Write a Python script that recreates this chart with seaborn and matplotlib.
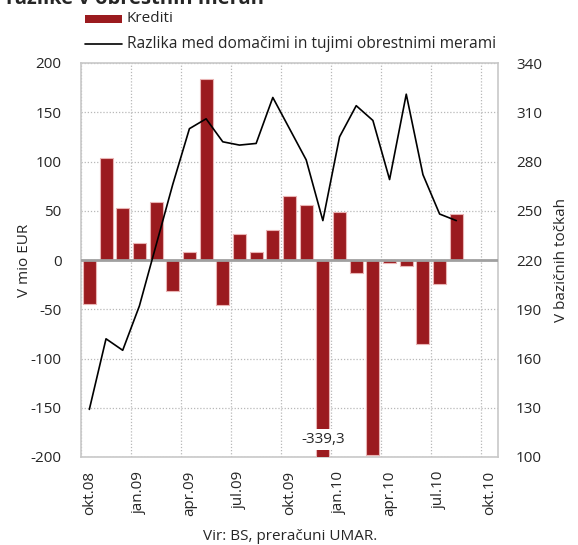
import numpy as np
import pandas as pd
import matplotlib
matplotlib.use("Agg")
import matplotlib.pyplot as plt
import seaborn as sns

months = ["okt.08", "nov.08", "dec.08", "jan.09", "feb.09", "mar.09", "apr.09",
          "maj.09", "jun.09", "jul.09", "avg.09", "sep.09", "okt.09", "nov.09",
          "dec.09", "jan.10", "feb.10", "mar.10", "apr.10", "maj.10", "jun.10",
          "jul.10", "avg.10", "sep.10", "okt.10"]

# Monthly change in loans, EUR million
krediti = [-45, 104, 53, 17, 59, -31, 8, 184, -46, 26, 8, 30, 65, 56,
           -339.3, 49, -13.5, -198, -3.4, -6.4, -85, -24, 47, np.nan, np.nan]

# Domestic vs foreign interest-rate spread, basis points
razlika = [129, 172, 165, 192, 229, 266, 300, 306, 292, 290, 291, 319, 300,
           281, 244, 295, 314, 305, 269, 321, 272, 248, 244]

tick_labels = ["okt.08", "jan.09", "apr.09", "jul.09", "okt.09",
               "jan.10", "apr.10", "jul.10", "okt.10"]

bar_label = "Krediti"
line_label = "Razlika med domačimi in tujimi obrestnimi merami"

sns.set_theme(style="white")
plt.rcParams["font.family"] = ["Open Sans", "DejaVu Sans"]
plt.rcParams["axes.unicode_minus"] = False

FS = 11
bar_color = "#9b1b1f"
grid_color = "#b8b8b8"

df_bars = pd.DataFrame({"mesec": months, "krediti": krediti})
df_line = pd.DataFrame({"pos": np.arange(len(razlika)), "razlika": razlika})

fig = plt.figure(figsize=(5.78, 5.45), dpi=100)
ax = fig.add_axes([81 / 578, 1 - 457 / 545, (498 - 81) / 578, (457 - 63) / 545])

sns.barplot(data=df_bars, x="mesec", y="krediti", order=months, ax=ax,
            color=bar_color, saturation=1, width=0.78,
            edgecolor="#e9b4b4", linewidth=0.8, zorder=3)

n = len(months)
ax.set_xlim(-0.5, n - 0.5)
ax.set_ylim(-200, 200)
ax.set_yticks(np.arange(-200, 201, 50))
# quarter labels sit on the month, grid lines on the quarter boundaries
ax.set_xticks(np.arange(0, n, 3))
ax.set_xticklabels(tick_labels, rotation=90, fontsize=FS)
ax.set_xticks(np.arange(-0.5, n - 0.5, 3), minor=True)
ax.tick_params(axis="x", which="both", length=0, pad=10)
ax.tick_params(axis="y", length=0, pad=14, labelsize=FS)
ax.grid(False)
ax.grid(True, which="major", axis="y", linestyle=(0, (1, 1.5)),
        color=grid_color, linewidth=0.9, zorder=0)
ax.grid(True, which="minor", axis="x", linestyle=(0, (1, 1.5)),
        color=grid_color, linewidth=0.9, zorder=0)
ax.set_axisbelow(True)
ax.axhline(0, color="#a0a0a0", linewidth=2, zorder=4)
for s in ax.spines.values():
    s.set_color("#c8c8c8")
    s.set_linewidth(1.2)
ax.set_xlabel("")
ax.set_ylabel("V mio EUR", fontsize=FS, labelpad=-1)

# value label for the clipped bar
idx_clip = int(np.nanargmin(krediti))
ax.text(idx_clip, -182, f"{krediti[idx_clip]:.1f}".replace(".", ","),
        ha="center", va="center", fontsize=FS, zorder=6,
        bbox=dict(facecolor="white", edgecolor="none", pad=2.0))

ax2 = ax.twinx()
sns.lineplot(data=df_line, x="pos", y="razlika", ax=ax2, color="black",
             linewidth=1.2, zorder=5)
ax2.set_ylim(100, 340)
ax2.set_yticks(np.arange(100, 341, 30))
ax2.set_xlim(-0.5, n - 0.5)
ax2.tick_params(axis="y", length=0, pad=13, labelsize=FS)
ax2.set_ylabel("V bazičnih točkah", fontsize=FS, labelpad=8.5)
ax2.set_xlabel("")
ax2.grid(False)
for s in ax2.spines.values():
    s.set_visible(False)

# legend drawn as two stacked rows above the plot
fig.patches.append(plt.Rectangle((85 / 578, 1 - 23 / 545), 37 / 578, 8 / 545,
                                 transform=fig.transFigure, facecolor=bar_color,
                                 edgecolor="none"))
fig.text(127 / 578, 1 - 19 / 545, bar_label, fontsize=FS, va="center", ha="left")
fig.lines.append(plt.Line2D([85 / 578, 122 / 578], [1 - 44 / 545, 1 - 44 / 545],
                            transform=fig.transFigure, color="black", linewidth=1.2))
fig.text(127 / 578, 1 - 44 / 545, line_label, fontsize=11.2, va="center", ha="left")

fig.text(6 / 578, 1 - 4 / 545, "razlike v obrestnih merah", fontsize=14.5,
         fontweight="bold", va="baseline", ha="left")

fig.text(290 / 578, 1 - 536 / 545, "Vir: BS, preračuni UMAR.", fontsize=FS,
         ha="center", va="center")

fig.savefig("out.png", dpi=100)
